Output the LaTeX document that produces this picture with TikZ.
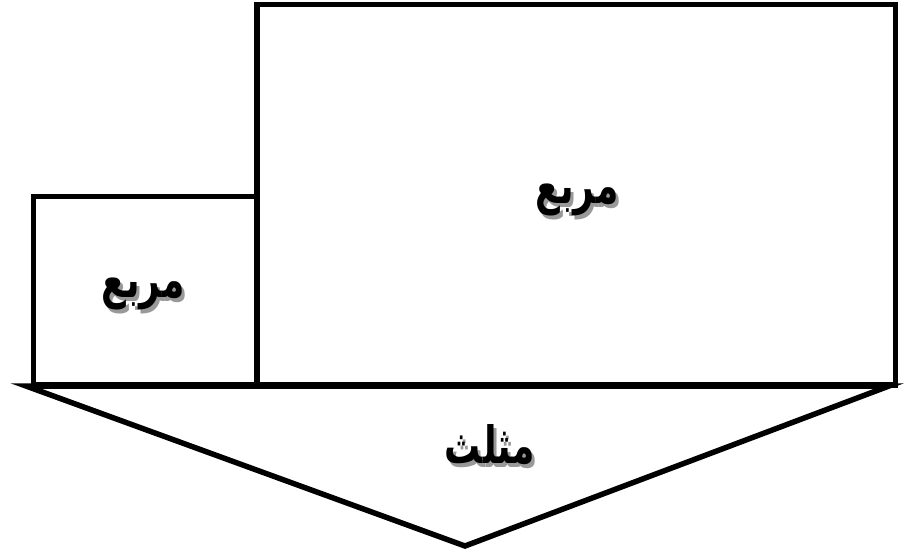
\documentclass[tikz,border=0pt]{standalone}
\usepackage{fontspec}
\usepackage{graphicx}
\newfontfamily\arabicfont[Script=Arabic]{DejaVu Sans}
\TeXXeTstate=1
\newcommand{\artxt}[1]{\scalebox{0.95}[1.35]{\beginR #1\endR}}
\begin{document}
\begin{tikzpicture}[x=1pt,y=-1pt,
  outline/.style={draw=black,line width=5.5pt,line join=miter},
  lbl/.style={font=\arabicfont\bfseries\fontsize{38}{44}\selectfont,inner sep=0pt},
  shadowlbl/.style={lbl,text=black!40}]
\useasboundingbox (0,0) rectangle (904,556);
\draw[outline] (257,4.5) rectangle (895.5,385);
\draw[outline] (33.5,196.5) rectangle (257,385);
\draw[outline] (26,386) -- (889,386) -- (465,546) -- cycle;
\node[shadowlbl] at (580,204) {\artxt{مربع}};
\node[lbl] (big) at (577,200) {\artxt{مربع}};
\node[shadowlbl] at (146,298) {\artxt{مربع}};
\node[lbl] (small) at (143,294) {\artxt{مربع}};
\node[shadowlbl] at (493,449) {\artxt{مثلث}};
\node[lbl] (tri) at (490,445) {\artxt{مثلث}};
\end{tikzpicture}
\end{document}
